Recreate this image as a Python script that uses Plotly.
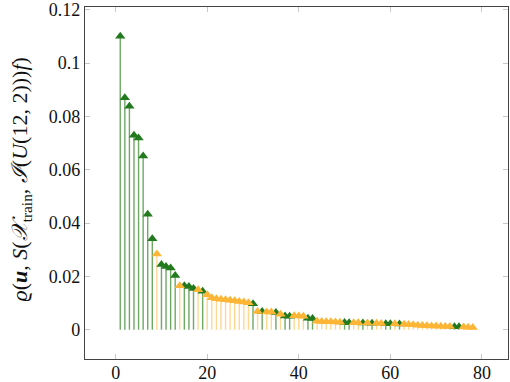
import plotly.graph_objects as go

# ---- data ----
idx = list(range(1, 79))
values = [
    0.1100, 0.0870, 0.0838, 0.0729, 0.0719, 0.0651, 0.0433, 0.0341, 0.0284, 0.0244,
    0.0237, 0.0231, 0.0203, 0.0165, 0.0165, 0.0162, 0.0154, 0.0150, 0.0144, 0.0131,
    0.0120, 0.0116, 0.0114, 0.0112, 0.0110, 0.0108, 0.0106, 0.0104, 0.0101, 0.0097,
    0.0068, 0.0068, 0.0066, 0.0066, 0.0064, 0.0058, 0.0051, 0.0050, 0.0052, 0.0051,
    0.0050, 0.0043, 0.0042, 0.0032, 0.0031, 0.0030, 0.0030, 0.0029, 0.0028, 0.0027,
    0.0026, 0.0026, 0.0026, 0.0025, 0.0025, 0.0024, 0.0024, 0.0023, 0.0022, 0.0022,
    0.0022, 0.0021, 0.0020, 0.0019, 0.0018, 0.0017, 0.0016, 0.0015, 0.0014, 0.0014,
    0.0013, 0.0012, 0.0012, 0.0011, 0.0011, 0.0010, 0.0009, 0.0008,
]
green_idx = [1, 2, 3, 4, 5, 6, 7, 8, 10, 11, 12, 13, 15, 16, 17, 19, 30, 32, 35,
             37, 38, 42, 43, 50, 51, 54, 56, 59, 60, 62, 74, 75]
x_ticks = [0, 20, 40, 60, 80]
y_ticks = [0, 0.02, 0.04, 0.06, 0.08, 0.1, 0.12]
y_tick_labels = ["0", "0.02", "0.04", "0.06", "0.08", "0.1", "0.12"]

GREEN = "#237a1e"
GREEN_STEM = "rgba(60,140,45,0.75)"
ORANGE = "#fdb535"
ORANGE_STEM = "rgba(253,190,70,0.6)"
FONT = "Liberation Serif, serif"

gx = [i for i in idx if i in green_idx]
gy = [v for i, v in zip(idx, values) if i in green_idx]
ox = [i for i in idx if i not in green_idx]
oy = [v for i, v in zip(idx, values) if i not in green_idx]


def stems(xs, ys):
    sx, sy = [], []
    for a, b in zip(xs, ys):
        sx += [a, a, None]
        sy += [0, b, None]
    return sx, sy


fig = go.Figure()
for xs, ys, sc in [(gx, gy, GREEN_STEM), (ox, oy, ORANGE_STEM)]:
    sx, sy = stems(xs, ys)
    fig.add_trace(go.Scatter(x=sx, y=sy, mode="lines",
                             line=dict(color=sc, width=1.4),
                             hoverinfo="skip", showlegend=False))
for xs, ys, mc in [(gx, gy, GREEN), (ox, oy, ORANGE)]:
    fig.add_trace(go.Scatter(x=xs, y=ys, mode="markers",
                             marker=dict(symbol="triangle-up", size=9, color=mc,
                                         line=dict(width=0)),
                             showlegend=False))

axis_common = dict(
    showgrid=False, zeroline=False, showline=True, linecolor="#444444", linewidth=1.3,
    mirror="allticks", ticks="inside", ticklen=5, tickwidth=1, tickcolor="#c8c8c8",
    tickfont=dict(family=FONT, size=18, color="#111111"),
    ticklabeloverflow="allow", automargin=False,
)
fig.update_xaxes(range=[-6.7, 85.7], tickvals=x_ticks, ticklabelstandoff=-3,
                 **axis_common)
fig.update_yaxes(range=[-0.011, 0.121], tickvals=y_ticks, ticktext=y_tick_labels,
                 **axis_common)

fig.add_annotation(
    text="<i>ϱ</i>(<b><i>u</i></b>, <i>S</i>(<i>𝒳</i><sub>train</sub>, <i>ℐ</i>(<i>U</i>(12, 2)))<i>f</i>)",
    xref="paper", yref="paper", x=-0.149, y=0.51, textangle=-90,
    showarrow=False, xanchor="center", yanchor="middle",
    font=dict(family=FONT, size=22, color="#111111"),
)

fig.update_layout(
    width=510, height=382,
    margin=dict(l=85, r=2, t=7, b=23),
    plot_bgcolor="white", paper_bgcolor="white",
)
fig.write_html("out.html", config={"displayModeBar": False},
               post_script="document.body.style.margin='0';")
